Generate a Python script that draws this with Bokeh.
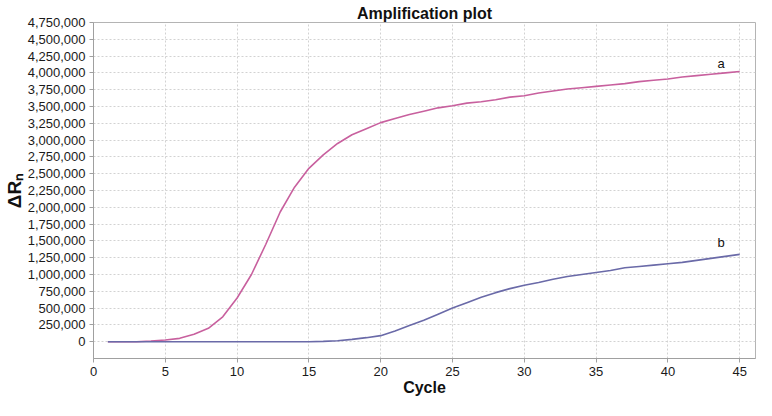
from bokeh.plotting import figure
from bokeh.models import Range1d, FixedTicker, NumeralTickFormatter, Label, Title
from bokeh.embed import file_html
from bokeh.resources import INLINE

cycles = list(range(1, 46))
curve_a = [0, 0, 0, 10000, 25000, 50000, 110000, 200000, 370000, 650000,
           1000000, 1450000, 1930000, 2300000, 2580000, 2780000, 2950000, 3080000, 3170000, 3260000,
           3320000, 3380000, 3430000, 3480000, 3510000, 3550000, 3570000, 3600000, 3640000, 3660000,
           3700000, 3730000, 3760000, 3780000, 3800000, 3820000, 3840000, 3870000, 3890000, 3910000,
           3940000, 3960000, 3980000, 4000000, 4020000]
curve_b = [0, 0, 0, 0, 0, 0, 0, 0, 0, 0,
           0, 0, 0, 0, 0, 5000, 15000, 35000, 60000, 90000,
           160000, 240000, 320000, 410000, 500000, 580000, 660000, 730000, 790000, 840000,
           880000, 930000, 970000, 1000000, 1030000, 1060000, 1100000, 1120000, 1140000, 1160000,
           1180000, 1210000, 1240000, 1270000, 1300000]
x_ticks = list(range(0, 50, 5))
y_ticks = list(range(0, 4750001, 250000))

FONT = "Liberation Sans"

p = figure(width=756, height=400, output_backend="svg", toolbar_location=None,
           x_range=Range1d(0, 46.1), y_range=Range1d(-250000, 4750000),
           min_border_left=91, min_border_right=1, min_border_top=22, min_border_bottom=42)

p.title = Title(text="Amplification plot", align="center", offset=8, standoff=2,
                text_font=FONT, text_font_size="16px", text_font_style="bold",
                text_color="#111111")

p.outline_line_color = "#b4b4b4"
p.background_fill_color = "white"
p.border_fill_color = "white"

for ax in (p.xaxis, p.yaxis):
    ax.axis_line_color = "#a0a0a0"
    ax.major_tick_line_color = "#a0a0a0"
    ax.major_tick_out = 4
    ax.major_tick_in = 0
    ax.minor_tick_line_color = None
    ax.major_label_text_font = FONT
    ax.major_label_text_font_size = "13px"
    ax.major_label_text_color = "#1a1a1a"
    ax.axis_label_text_font = FONT
    ax.axis_label_text_font_style = "bold"
    ax.axis_label_text_color = "#111111"

p.xaxis.ticker = FixedTicker(ticks=x_ticks)
p.yaxis.ticker = FixedTicker(ticks=y_ticks)
p.yaxis.formatter = NumeralTickFormatter(format="0,0")
p.xaxis.major_label_standoff = 4
p.yaxis.major_label_standoff = 4

p.xaxis.axis_label = "Cycle"
p.xaxis.axis_label_text_font_size = "16px"
p.xaxis.axis_label_standoff = 0
p.yaxis.axis_label = "ΔRₙ"
p.yaxis.axis_label_text_font_size = "19px"
p.yaxis.axis_label_standoff = 0

p.xgrid.ticker = FixedTicker(ticks=x_ticks)
p.ygrid.ticker = FixedTicker(ticks=y_ticks)
for g in (p.xgrid, p.ygrid):
    g.grid_line_color = "#d2d2d2"
    g.grid_line_dash = "2 2"
    g.grid_line_width = 1

p.line(cycles, curve_a, line_color="#c8609e", line_width=1.6)
p.line(cycles, curve_b, line_color="#6a6aa8", line_width=1.6)

p.add_layout(Label(x=43.7, y=4140000, text="a", text_font=FONT, text_font_size="13px",
                   text_align="center", text_baseline="middle", text_color="#111111"))
p.add_layout(Label(x=43.7, y=1474000, text="b", text_font=FONT, text_font_size="13px",
                   text_align="center", text_baseline="middle", text_color="#111111"))

open("out.html", "w").write(file_html(p, INLINE))
